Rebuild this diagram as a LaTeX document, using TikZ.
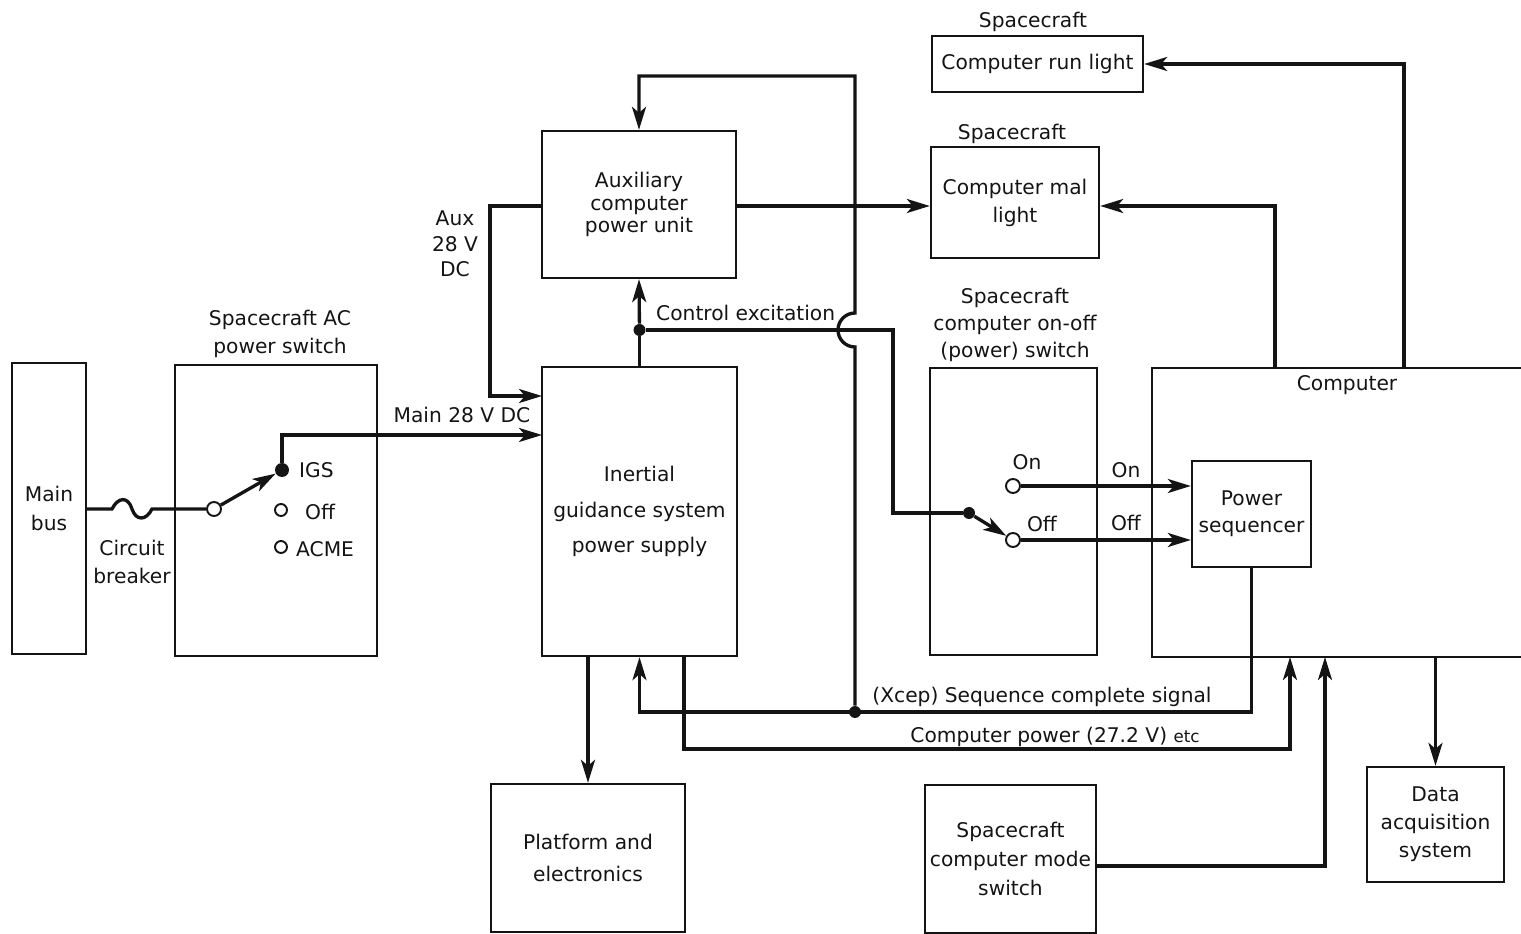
\documentclass[tikz,border=0pt]{standalone}
\usepackage{fontspec}
\setmainfont{DejaVu Sans}
\usetikzlibrary{arrows.meta, positioning, calc}

\begin{document}
\begin{tikzpicture}[
    x=0.2mm, y=-0.2mm,
    every node/.style={font=\fontsize{11.5}{16}\selectfont},
]

% ---------------------------------------------------------------- colours
\definecolor{ink}{HTML}{141414}

\tikzset{
    box/.style={rectangle, draw=ink, line width=1.3pt, inner sep=0pt,
                align=center, text=ink},
    wire/.style={draw=ink, line width=1.9pt},
    feed/.style={wire, -{Stealth[length=4.6mm, width=2.8mm, inset=1.2mm]}},
    term/.style={circle, draw=ink, line width=1.1pt, fill=white,
                 inner sep=0pt, minimum size=2.6mm},
    jdot/.style={circle, fill=ink, inner sep=0pt, minimum size=2.6mm},
    tag/.style={align=center, text=ink},
}

% ================================================================
% GEOMETRY (one unit = one pixel of the 1521 x 934 sheet, y down)
%   main bus            x =   12 .. 86
%   AC power switch     x =  175 .. 377
%   aux / inertial      x =  542 .. 737
%   lights, on-off      x =  930 .. 1099
%   computer            x = 1152 .. 1521 (open at the right)
%   bottom row          y =  784 .. 933
% ================================================================
\useasboundingbox (0,0) rectangle (1521,934);

% ---------------------------------------------------------------- blocks
\node[box, minimum width=14.8mm, minimum height=58.2mm] (mainbus)
    at (49,508.5) {Main\\bus};
\node[box, minimum width=40.4mm, minimum height=58.2mm] (acsw)
    at (276,510.5) {};
\node[box, minimum width=38.8mm, minimum height=29.4mm,
      font=\fontsize{11.5}{12.8}\selectfont] (aux)
    at (639,204.5) {Auxiliary\\computer\\power unit};
\node[box, minimum width=39mm, minimum height=57.8mm,
      font=\fontsize{11.5}{20}\selectfont] (igs)
    at (639.5,511.5) {Inertial\\guidance system\\power supply};
\node[box, minimum width=38.8mm, minimum height=29.6mm,
      font=\fontsize{11.5}{18}\selectfont] (platform)
    at (588,858) {Platform and\\electronics};
\node[box, minimum width=42.2mm, minimum height=11.2mm] (runlight)
    at (1037.5,64) {Computer run light};
\node[box, minimum width=33.6mm, minimum height=22.2mm] (mallight)
    at (1015,202.5) {Computer mal\\light};
\node[box, minimum width=33.4mm, minimum height=57.4mm] (onoff)
    at (1013.5,511.5) {};
\node[minimum width=73.8mm, minimum height=57.8mm, inner sep=0pt] (comp)
    at (1336.5,512.5) {};
\node[box, minimum width=23.8mm, minimum height=21.2mm,
      font=\fontsize{11.5}{15.3}\selectfont] (seq)
    at (1251.5,514) {Power\\sequencer};
\node[box, minimum width=34.2mm, minimum height=29.6mm,
      font=\fontsize{11.5}{16.4}\selectfont] (mode)
    at (1010.5,859) {Spacecraft\\computer mode\\switch};
\node[box, minimum width=27.4mm, minimum height=23mm] (daq)
    at (1435.5,824.5) {Data\\acquisition\\system};

\draw[ink, line width=1.1pt] (comp.north east) -- (comp.north west)
    -- (comp.south west) -- (comp.south east);

% ---------------------------------------------------------------- switch contacts
\node[term, minimum size=2.8mm] (piv) at (214,509) {};
\node[jdot, minimum size=2.8mm] (igsdot) at (282,470) {};
\node[term, minimum size=2.4mm] (offac) at (281,510) {};
\node[term, minimum size=2.4mm] (acme) at (281,547) {};
\node[term, minimum size=2.8mm] (onpin) at (1013,486) {};
\node[term, minimum size=2.8mm] (offpin) at (1013,540) {};
\node[jdot, minimum size=2.4mm] (swdot) at (969,513) {};
\node[jdot, minimum size=2.4mm] (ctrldot) at (639.5,330) {};
\node[jdot, minimum size=2.4mm] (seqdot) at (855,712) {};

% ---------------------------------------------------------------- pins and rows
\coordinate (mainin) at (542,435);
\coordinate (auxL) at (542,206);
\coordinate (auxin) at (542,396);
\coordinate (malrow) at (0,206);
\coordinate (ctrlbend) at (893,330);
\coordinate (hopbot) at (855,347);
\coordinate (looptop) at (855,76);
\coordinate (cpout) at (684,656);
\coordinate (cprow) at (0,749);
\coordinate (cpin) at (1290,657);
\coordinate (modein) at (1325,657);
\coordinate (moderow) at (0,866);
\coordinate (malout) at (1275,368);
\coordinate (runout) at (1404,368);

% ---------------------------------------------------------------- power in
\draw[wire] (mainbus.east |- piv) -- (112,509)
    .. controls (118,497) and (128,496) .. (132,509)
    .. controls (136,521) and (146,521) .. (152,509) -- (piv);
\draw[feed] (piv) -- (igsdot);
\draw[feed] (igsdot) |- (mainin);
\draw[feed] (auxL) -- ++(-52,0) |- (auxin);
\draw[feed] (aux.east |- malrow) -- (mallight.west |- malrow);

% ---------------------------------------------------------------- control excitation
\draw[wire] (igs.north) -- (ctrldot);
\draw[feed] (ctrldot) -- (aux.south);
\draw[wire] (ctrldot) -- (ctrlbend) |- (swdot);
\draw[feed] (swdot) -- (offpin);
\draw[feed] (onpin) -- (seq.west |- onpin);
\draw[feed] (offpin) -- (seq.west |- offpin);

% ---------------------------------------------------------------- sequence complete loop
\draw[feed] (seqdot) -- (hopbot) arc[start angle=270, end angle=90, radius=3.4mm]
    -- (looptop) -| (aux.north);
\draw[feed] (seq.south) |- (igs.south |- seqdot) -- (igs.south);

% ---------------------------------------------------------------- outputs
\draw[feed] (cpout) -- (cpout |- cprow) -| (cpin);
\draw[feed] (igs.south -| platform.north) -- (platform.north);
\draw[feed] (mode.east |- moderow) -| (modein);
\draw[feed] (comp.south -| daq.north) -- (daq.north);
\draw[feed] (malout) |- (mallight.east |- malrow);
\draw[feed] (runout) |- (runlight.east);

% ---------------------------------------------------------------- labels
\node[tag] (acswlbl) at (280,334) {Spacecraft AC\\power switch};
\node[tag] (cblbl) at (132,562) {Circuit\\breaker};
\node[tag, anchor=west] (igslbl) at (293,470) {IGS};
\node[tag, anchor=west] (offaclbl) at (299,512) {Off};
\node[tag, anchor=west] (acmelbl) at (290,549) {ACME};
\node[tag] (mainlbl) at (462,415) {Main 28 V DC};
\node[tag, font=\fontsize{11.5}{14.5}\selectfont] (auxlbl) at (455,244)
    {Aux\\28 V\\DC};
\node[tag, anchor=west] (ctrllbl) at (650,313) {Control excitation};
\node[tag, font=\fontsize{11.5}{15.3}\selectfont] (onofflbl) at (1015,325)
    {Spacecraft\\computer on-off\\(power) switch};
\node[tag] (onlbl) at (1027,462) {On};
\node[tag] (offlbl) at (1042,524) {Off};
\node[tag] (onlinelbl) at (1126,470) {On};
\node[tag] (offlinelbl) at (1126,523) {Off};
\node[tag] (complbl) at (1347,385) {Computer};
\node[tag] (runlbl) at (1033,22) {Spacecraft};
\node[tag] (mallbl) at (1012,134) {Spacecraft};
\node[tag] (seqlbl) at (1042,697) {(Xcep) Sequence complete signal};
\node[tag] (cplbl) at (1055,737)
    {Computer power (27.2 V) {\fontsize{9.5}{11}\selectfont etc}};

\end{tikzpicture}
\end{document}
